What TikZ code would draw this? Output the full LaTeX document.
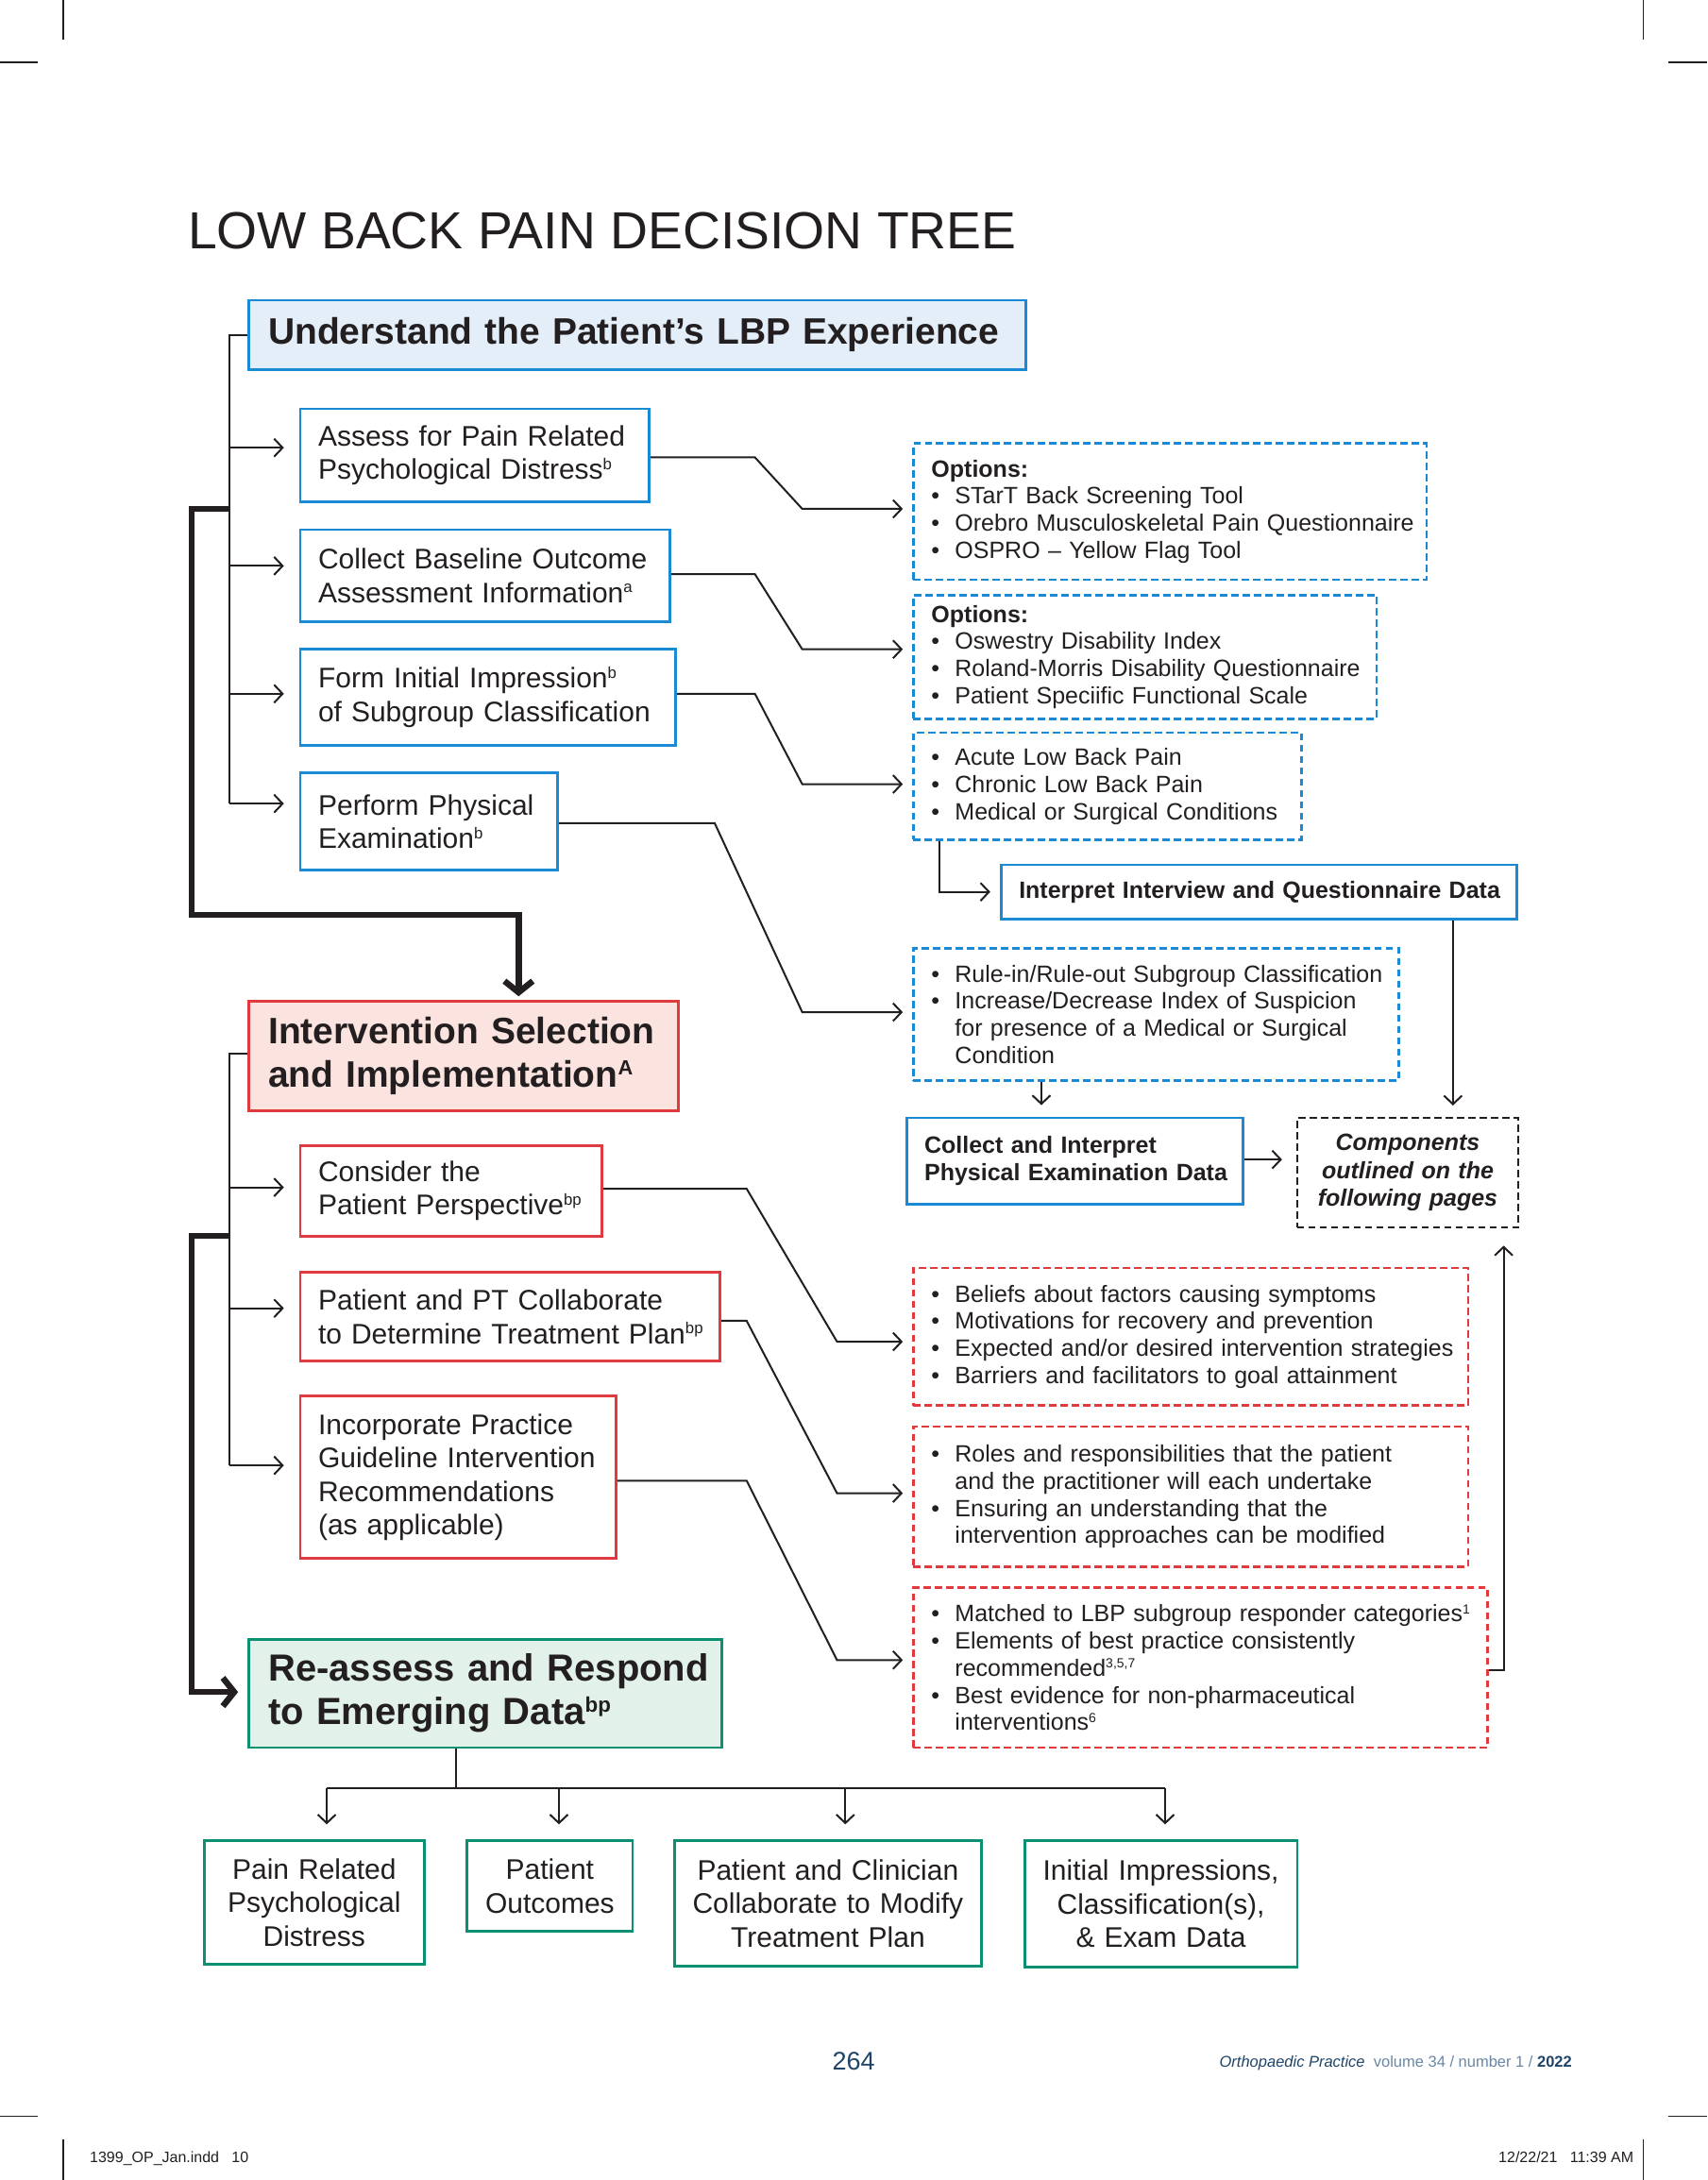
\documentclass[tikz,border=0pt]{standalone}
\usepackage{fontspec}
\setmainfont{Liberation Sans}
\usetikzlibrary{arrows.meta}
\definecolor{cblue}{HTML}{1A8AD4}
\definecolor{cbluefill}{HTML}{E4EEF9}
\definecolor{cred}{HTML}{E03A3E}
\definecolor{credfill}{HTML}{FBE4DF}
\definecolor{cgreen}{HTML}{0B9171}
\definecolor{cgreenfill}{HTML}{E2F2EA}
\definecolor{ink}{HTML}{231F20}
\definecolor{navy}{HTML}{1F4468}
\definecolor{slate}{HTML}{6A86A3}
\newcommand\fsA{\fontsize{30}{35.5}\selectfont}
\newcommand\fsB{\fontsize{25}{28.8}\selectfont}
\newcommand\fsH{\fontsize{39}{46}\selectfont\bfseries}
\newcommand\itm{\makebox[25pt][l]{\textbullet}}
\newcommand\ind{\hspace*{25pt}}
\newcommand\sups[1]{\raisebox{.34em}{\scalebox{0.56}{#1}}}
\newcommand\mkbox[7]{%
  \pgfmathsetmacro\mkbw{(#5-#3)*1.4731}%
  \pgfmathsetmacro\mkbh{(#6-#4)*1.4731}%
  \node[#2, text width=\mkbw pt, minimum height=\mkbh pt] (#1) at ({(#3+#5)/2},{(#4+#6)/2}) {#7};%
}
\tikzset{
  boxbase/.style={line width=2.8pt, inner xsep=0pt, inner ysep=0pt, text=ink},
  lefttext/.style={align=left, execute at begin node={\leftskip=#1\relax}},
  lefttext/.default=19pt,
  bluebox/.style={boxbase, draw=cblue, fill=white, font=\fsA, lefttext},
  redbox/.style={boxbase, draw=cred, fill=white, font=\fsA, lefttext},
  greenbox/.style={boxbase, draw=cgreen, fill=white, font=\fsA, align=center},
  dashbase/.style={line width=2.6pt, dash pattern=on 7.5pt off 4.5pt, inner xsep=0pt, inner ysep=0pt, text=ink, font=\fsB, lefttext},
  bluedash/.style={dashbase, draw=cblue},
  reddash/.style={dashbase, draw=cred},
  conn/.style={draw=ink, line width=2pt, line join=miter},
  arr/.style={conn, -{Straight Barb[length=9pt,width=19pt]}},
  heavy/.style={draw=ink, line width=6.5pt, line join=miter, -{Straight Barb[length=12pt,width=30pt]}},
  crop/.style={draw=ink, line width=1.5pt},
}
\begin{document}
\begin{tikzpicture}[x=1.4731pt, y=-1.4731pt]
\useasboundingbox (0,0) rectangle (1228,1568);
\fill[white] (0,0) rectangle (1228,1568);

% crop marks
\draw[crop] (45.5,0) -- (45.5,28.5);
\draw[crop] (0,44.8) -- (27.2,44.8);
\draw[crop] (1182,0) -- (1182,28.5);
\draw[crop] (1200.2,44.8) -- (1228,44.8);
\draw[crop] (0,1522) -- (27.2,1522);
\draw[crop] (1200.2,1522) -- (1228,1522);
\draw[crop] (45.5,1539) -- (45.5,1568);
\draw[crop] (1182,1539) -- (1182,1568);

% title
\node[anchor=base west, inner sep=0pt, text=ink, font=\fontsize{55.3}{60}\selectfont] (title) at (135,179) {LOW BACK PAIN DECISION TREE};

% ---------- top section ----------
\mkbox{understand}{boxbase, draw=cblue, fill=cbluefill, font=\fsH, lefttext=20.6pt}{179}{216}{738}{266}{Understand the Patient’s LBP Experience}
\mkbox{assess}{bluebox}{216}{294}{467}{361}{Assess for Pain Related\\Psychological Distress\sups{b}}
\mkbox{collect}{bluebox}{216}{381}{482}{447}{Collect Baseline Outcome\\Assessment Information\sups{a}}
\mkbox{form}{bluebox}{216}{467}{486}{536}{Form Initial Impression\sups{b}\\of Subgroup Classification}
\mkbox{perform}{bluebox}{216}{556}{401}{626}{Perform Physical\\Examination\sups{b}}

\mkbox{opt1}{bluedash}{657}{319}{1026}{417}{\textbf{Options:}\\\itm STarT Back Screening Tool\\\itm Orebro Musculoskeletal Pain Questionnaire\\\itm OSPRO – Yellow Flag Tool}
\mkbox{opt2}{bluedash}{657}{428}{990}{517}{\textbf{Options:}\\\itm Oswestry Disability Index\\\itm Roland-Morris Disability Questionnaire\\\itm Patient Speciific Functional Scale}
\mkbox{opt3}{bluedash}{657}{527}{936}{604}{\itm Acute Low Back Pain\\\itm Chronic Low Back Pain\\\itm Medical or Surgical Conditions}
\mkbox{interp}{boxbase, draw=cblue, fill=white, font=\fsB\bfseries, lefttext}{720}{622}{1091}{661}{Interpret Interview and Questionnaire Data}
\mkbox{rule}{bluedash}{657}{682}{1006}{777}{\itm Rule-in/Rule-out Subgroup Classification\\\itm Increase/Decrease Index of Suspicion\\\ind for presence of a Medical or Surgical\\\ind Condition}
\mkbox{collectpe}{boxbase, draw=cblue, fill=white, font=\fsB\bfseries, lefttext}{652}{804}{894}{866}{Collect and Interpret\\Physical Examination Data}
\mkbox{comp}{boxbase, draw=ink, line width=2.2pt, dash pattern=on 7.5pt off 4.5pt, fill=white, font=\fontsize{25}{29.5}\selectfont\bfseries\itshape, align=center}{933}{804}{1092}{883}{Components\\outlined on the\\following pages}

% left spine (top)
\draw[conn] (understand.west) -| (165,578);
\foreach \n/\yy in {assess/322, collect/407, form/499, perform/578}
  \draw[arr, shorten >=16pt] (165,\yy) -- (\n.west |- 165,\yy);
\draw[heavy, shorten >=5pt] (165,366) -- (138,366) -- (138,658) -- (373,658) -- (373,720);

% right connectors (top)
\draw[arr, shorten >=10pt] (assess.east |- 0,329) -- (543,329) -- (577,366) -- (opt1.west |- 0,366);
\draw[arr, shorten >=10pt] (collect.east |- 0,413) -- (543,413) -- (577,467) -- (opt2.west |- 0,467);
\draw[arr, shorten >=10pt] (form.east |- 0,499) -- (543,499) -- (577,564) -- (opt3.west |- 0,564);
\draw[arr, shorten >=10pt] (perform.east |- 0,592) -- (514,592) -- (577,728) -- (rule.west |- 0,728);
\draw[arr, shorten >=10pt] (opt3.south -| 676,0) |- (interp.west);
\draw[arr, shorten >=12pt] (interp.south -| 1045,0) -- (comp.north -| 1045,0);
\draw[arr, shorten >=12pt] (rule.south -| 749,0) -- (collectpe.north -| 749,0);
\draw[arr, shorten >=15pt] (collectpe.east |- 0,834) -- (comp.west |- 0,834);

% ---------- middle section ----------
\mkbox{interv}{boxbase, draw=cred, fill=credfill, font=\fsH, lefttext=20.6pt}{179}{720}{488}{799}{Intervention Selection\\and Implementation\sups{A}}
\mkbox{consider}{redbox}{216}{824}{433}{889}{Consider the\\Patient Perspective\sups{bp}}
\mkbox{collab}{redbox}{216}{915}{518}{979}{Patient and PT Collaborate\\to Determine Treatment Plan\sups{bp}}
\mkbox{incorp}{redbox}{216}{1004}{443}{1121}{Incorporate Practice\\Guideline Intervention\\Recommendations\\(as applicable)}

\mkbox{beliefs}{reddash}{657}{912}{1056}{1011}{\itm Beliefs about factors causing symptoms\\\itm Motivations for recovery and prevention\\\itm Expected and/or desired intervention strategies\\\itm Barriers and facilitators to goal attainment}
\mkbox{roles}{reddash}{657}{1026}{1056}{1127}{\itm Roles and responsibilities that the patient\\\ind and the practitioner will each undertake\\\itm Ensuring an understanding that the\\\ind intervention approaches can be modified}
\mkbox{matched}{reddash}{657}{1142}{1070}{1257}{\itm Matched to LBP subgroup responder categories\sups{1}\\\itm Elements of best practice consistently\\\ind recommended\sups{3,5,7}\\\itm Best evidence for non-pharmaceutical\\\ind interventions\sups{6}}

\mkbox{reassess}{boxbase, draw=cgreen, fill=cgreenfill, font=\fontsize{40}{46}\selectfont\bfseries, lefttext=20.6pt}{179}{1179}{519}{1257}{Re-assess and Respond\\to Emerging Data\sups{bp}}

% left spine (middle)
\draw[conn] (interv.west |- 0,758) -| (165,1054);
\foreach \n/\yy in {consider/854, collab/941, incorp/1054}
  \draw[arr, shorten >=16pt] (165,\yy) -- (\n.west |- 165,\yy);
\draw[heavy, shorten >=10pt] (165,889) -- (138,889) -- (138,1217) -- (reassess.west |- 0,1217);

% right connectors (middle)
\draw[arr, shorten >=10pt] (consider.east |- 0,855) -- (537,855) -- (602,965) -- (beliefs.west |- 0,965);
\draw[arr, shorten >=10pt] (collab.east |- 0,950) -- (537,950) -- (602,1074) -- (roles.west |- 0,1074);
\draw[arr, shorten >=10pt] (incorp.east |- 0,1065) -- (537,1065) -- (602,1194) -- (matched.west |- 0,1194);
\draw[arr, shorten >=18pt] (matched.east |- 0,1201) -- (1081.5,1201) -- (comp.south -| 1081.5,0);

% ---------- bottom ----------
\mkbox{b1}{greenbox}{147}{1324}{305}{1413}{Pain Related\\Psychological\\Distress}
\mkbox{b2}{greenbox}{336}{1324}{455}{1389}{Patient\\Outcomes}
\mkbox{b3}{greenbox}{485}{1324}{706}{1414}{Patient and Clinician\\Collaborate to Modify\\Treatment Plan}
\mkbox{b4}{greenbox}{737}{1324}{933}{1415}{Initial Impressions,\\Classification(s),\\\& Exam Data}

\coordinate (bus) at (328,1286);
\draw[conn] (reassess.south -| bus) -- (bus);
\draw[conn] (235,1286) -- (838,1286);
\foreach \n/\xx in {b1/235, b2/402, b3/608, b4/838}
  \draw[arr, shorten >=16pt] (\xx,1286) -- (\n.north -| \xx,0);

% footer
\node[anchor=base, inner sep=0pt, text=navy, font=\fontsize{27}{30}\selectfont] (page) at (614,1488.7) {264};
\node[anchor=base west, inner sep=0pt, font=\fontsize{16.5}{18}\selectfont] (journal) at (877,1486.7) {\textcolor{navy}{\itshape Orthopaedic Practice}\ \ \textcolor{slate}{volume 34 / number 1 /} \textcolor{navy}{\bfseries 2022}};
\node[anchor=base west, inner sep=0pt, text=ink, font=\fontsize{16}{18}\selectfont] (slugl) at (64.5,1555.2) {1399\_OP\_Jan.indd\ \ \ 10};
\node[anchor=base east, inner sep=0pt, text=ink, font=\fontsize{16}{18}\selectfont] (slugr) at (1175,1555.2) {12/22/21\ \ \ 11:39 AM};
\end{tikzpicture}
\end{document}
